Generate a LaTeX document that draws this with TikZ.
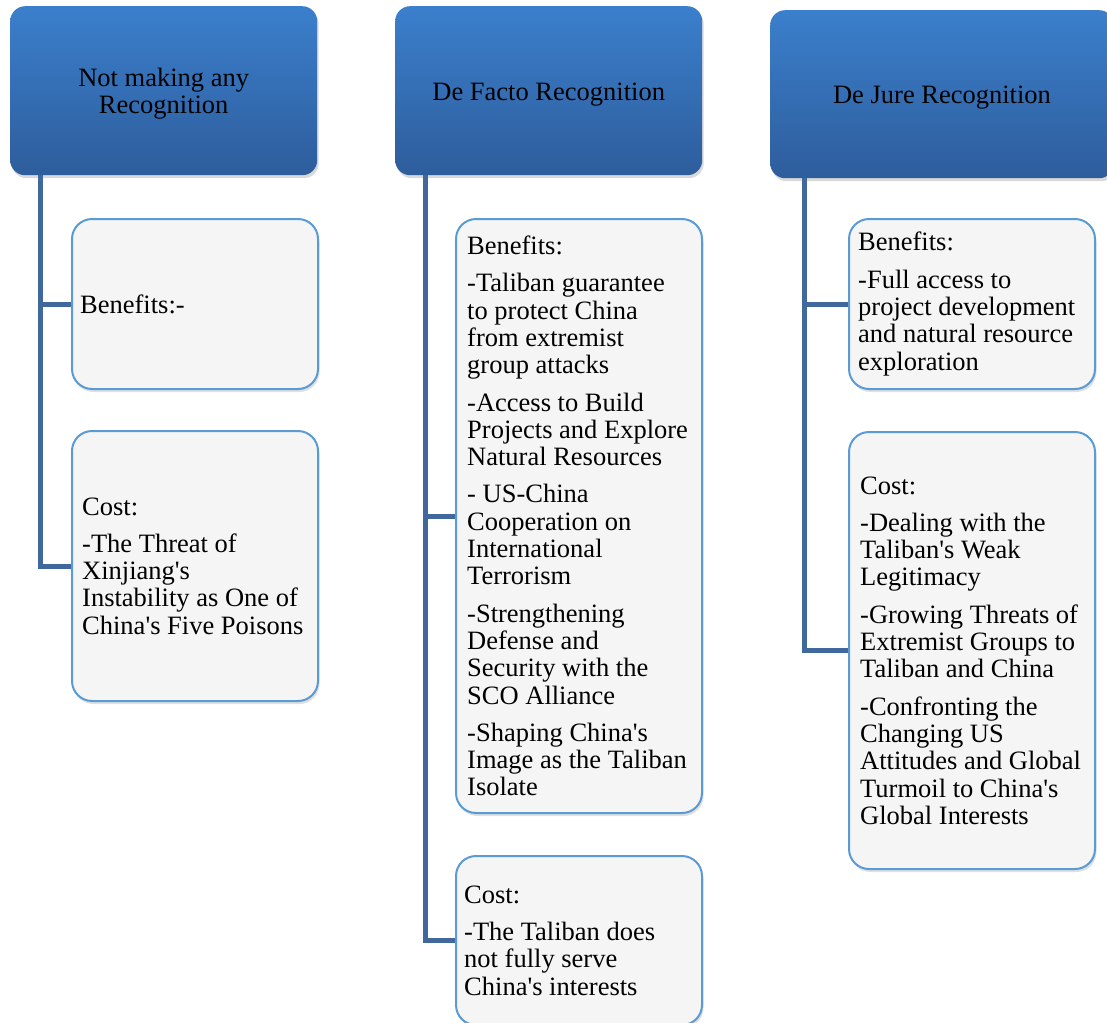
\documentclass[tikz,border=0pt]{standalone}
\usepackage{fontspec}
\setmainfont{Liberation Serif}
\usetikzlibrary{shadows,calc}
\definecolor{hdrTop}{RGB}{59,127,204}
\definecolor{hdrBot}{RGB}{46,93,156}
\definecolor{connC}{RGB}{64,104,156}
\definecolor{boxBorder}{RGB}{91,155,213}
\definecolor{boxFill}{RGB}{245,245,245}
\newcommand{\myq}{\textquotesingle}
\begin{document}
\begin{tikzpicture}[x=1pt,y=-1pt,
  every node/.style={font=\fontsize{26.5}{27.3}\selectfont},
  hdr/.style={rectangle, rounded corners=15pt, top color=hdrTop, bottom color=hdrBot,
    draw=none, minimum width=307pt, minimum height=169pt, anchor=north west,
    inner sep=0pt,
    drop shadow={opacity=0.3, shadow xshift=1.5pt, shadow yshift=-3pt}},
  infobox/.style={rectangle, rounded corners=20pt, draw=boxBorder, line width=2pt,
    fill=boxFill, minimum width=246pt, inner sep=0pt, anchor=north west,
    drop shadow={opacity=0.25, shadow xshift=1.5pt, shadow yshift=-3pt}},
  txt/.style={align=left, inner sep=0pt, anchor=west},
  htxt/.style={align=center, inner sep=0pt},
  conn/.style={draw=connC, line width=5pt}]
\useasboundingbox (0,0) rectangle (1107,1022);

% headers
\node[hdr] (h1) at (10,6) {};
\node[hdr] (h2) at (395,6) {};
\node[hdr, minimum width=344pt, minimum height=168pt] (h3) at (770,10) {};
\node[htxt] (h1t) at ($(h1.center)+(0,3)$) {Not making any\\Recognition};
\node[htxt] (h2t) at ($(h2.center)+(0,4)$) {De Facto Recognition};
\node[htxt] (h3t) at ($(h3.north west)+(172,88)$) {De Jure Recognition};

% boxes
\node[infobox, minimum height=170pt] (b1) at (71,218) {};
\node[infobox, minimum height=270pt] (c1) at (71,430) {};
\node[infobox, minimum height=594pt] (b2) at (455,218) {};
\node[infobox, minimum height=169pt] (c2) at (455,855) {};
\node[infobox, minimum height=170pt] (b3) at (848,218) {};
\node[infobox, minimum height=437pt] (c3) at (848,431) {};

% texts
\node[txt] (b1t) at ($(b1.west)+(9,0)$) {Benefits:-};
\node[txt] (c1t) at ($(c1.west)+(11,0)$) {Cost:\\[10pt]-The Threat of\\Xinjiang\myq s\\Instability as One of\\China\myq s Five Poisons};
\node[txt] (b2t) at ($(b2.west)+(12,0)$) {Benefits:\\[10pt]-Taliban guarantee\\to protect China\\from extremist\\group attacks\\[10pt]-Access to Build\\Projects and Explore\\Natural Resources\\[10pt]- US-China\\Cooperation on\\International\\Terrorism\\[10pt]-Strengthening\\Defense and\\Security with the\\SCO Alliance\\[10pt]-Shaping China\myq s\\Image as the Taliban\\Isolate};
\node[txt] (c2t) at ($(c2.west)+(9,0)$) {Cost:\\[10pt]-The Taliban does\\not fully serve\\China\myq s interests};
\node[txt] (b3t) at ($(b3.west)+(10,0)$) {Benefits:\\[10pt]-Full access to\\project development\\and natural resource\\exploration};
\node[txt] (c3t) at ($(c3.west)+(12,0)$) {Cost:\\[10pt]-Dealing with the\\Taliban\myq s Weak\\Legitimacy\\[10pt]-Growing Threats of\\Extremist Groups to\\Taliban and China\\[10pt]-Confronting the\\Changing US\\Attitudes and Global\\Turmoil to China\myq s\\Global Interests};

% connectors
\draw[conn] ($(h1.south west)+(30,0)$) |- (b1.west);
\draw[conn] ($(h1.south west)+(30,0)$) |- (c1.west);
\draw[conn] ($(h2.south west)+(30,0)$) |- (b2.west);
\draw[conn] ($(h2.south west)+(30,0)$) |- (c2.west);
\draw[conn] ($(h3.south west)+(34,0)$) |- (b3.west);
\draw[conn] ($(h3.south west)+(34,0)$) |- (c3.west);
\end{tikzpicture}
\end{document}
